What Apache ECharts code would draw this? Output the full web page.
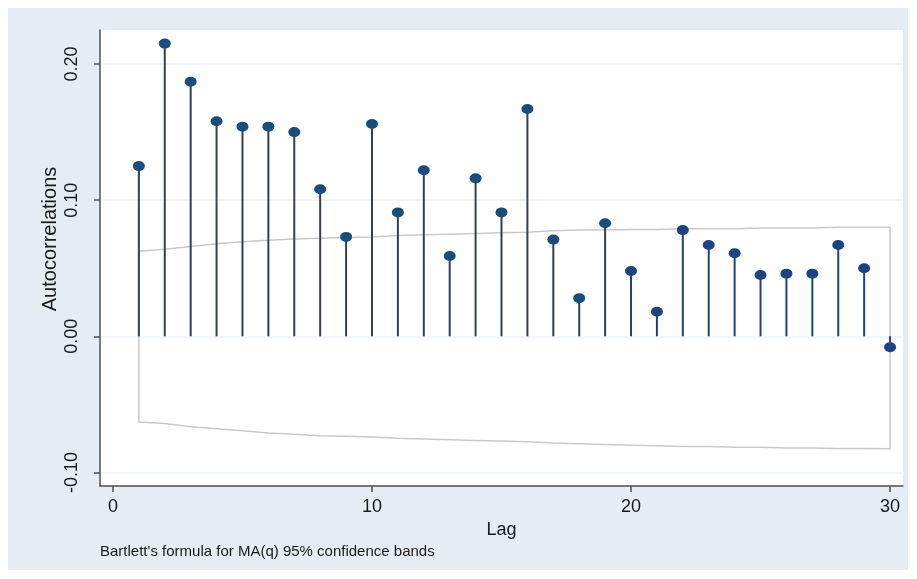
<!DOCTYPE html>
<html>
<head>
<meta charset="utf-8">
<style>html,body{margin:0;padding:0;background:#fff}#c{width:917px;height:579px}</style>
<script src="https://cdn.jsdelivr.net/npm/echarts@6/dist/echarts.min.js"></script>
</head>
<body>
<div id="c"></div>
<script>
var lags = [1,2,3,4,5,6,7,8,9,10,11,12,13,14,15,16,17,18,19,20,21,22,23,24,25,26,27,28,29,30];
var acf = [0.125,0.215,0.187,0.158,0.154,0.154,0.150,0.108,0.073,0.156,0.091,0.122,0.059,0.116,0.091,0.167,0.071,0.028,0.083,0.048,0.018,0.078,0.067,0.061,0.045,0.046,0.046,0.067,0.050,-0.008];
var bandUpper = [0.0625,0.064,0.066,0.068,0.0695,0.0705,0.0715,0.072,0.0725,0.073,0.074,0.0745,0.075,0.0755,0.076,0.0765,0.0775,0.078,0.078,0.0785,0.0785,0.079,0.079,0.079,0.0795,0.0795,0.0795,0.080,0.080,0.080];
var bandLower = [-0.063,-0.064,-0.0665,-0.068,-0.0695,-0.071,-0.072,-0.073,-0.0735,-0.074,-0.075,-0.0755,-0.076,-0.0765,-0.077,-0.0775,-0.0785,-0.079,-0.0795,-0.080,-0.0805,-0.081,-0.081,-0.0815,-0.0815,-0.082,-0.082,-0.0825,-0.0825,-0.0826];
var yTicks = [-0.1, 0, 0.1, 0.2];
var yTickLabels = ['-0.10','0.00','0.10','0.20'];
var xTicks = [0, 10, 20, 30];

var stemData = lags.map(function(l,i){return [l, acf[i]];});
var band = [];
for (var i=0;i<lags.length;i++) band.push([lags[i], bandUpper[i]]);
for (var j=lags.length-1;j>=0;j--) band.push([lags[j], bandLower[j]]);
band.push([lags[0], bandUpper[0]]);

function colStem(l){return l>=20 ? '#1d4480' : '#363f4a';}
function colDot(l){return l>=20 ? '#1d4480' : '#1b4d7c';}

var chart = echarts.init(document.getElementById('c'), null, {renderer:'canvas'});
chart.setOption({
  backgroundColor: '#ffffff',
  animation: false,
  graphic: [
    {type:'rect', z:-10, silent:true, shape:{x:8,y:8,width:900,height:562}, style:{fill:'#e6ebf4'}},
    {type:'text', left:100, top:544, style:{text:"Bartlett's formula for MA(q) 95% confidence bands", font:'15px "Liberation Sans", Arial, sans-serif', fill:'#1a1a1a'}},
    {type:'text', x:50, y:239, rotation:Math.PI/2, style:{text:'Autocorrelations', font:'20px "Liberation Sans", Arial, sans-serif', fill:'#1a1a1a', align:'center', verticalAlign:'middle'}}
  ],
  grid: {left:100, right:14, top:30, bottom:93, show:true, backgroundColor:'#ffffff', borderWidth:0},
  xAxis: {
    type:'value', min:-0.5, max:30.5,
    name:'Lag', nameLocation:'middle', nameGap:30,
    nameTextStyle:{fontSize:18, color:'#1a1a1a', fontFamily:'"Liberation Sans", Arial, sans-serif'},
    axisLine:{show:true, onZero:false, lineStyle:{color:'#505050', width:1.5}},
    axisTick:{show:true, length:6, customValues:xTicks, lineStyle:{color:'#505050', width:1.5}},
    axisLabel:{customValues:xTicks, fontSize:18, margin:12, color:'#1a1a1a', fontFamily:'"Liberation Sans", Arial, sans-serif'},
    splitLine:{show:false}
  },
  yAxis: {
    type:'value', min:-0.11, max:0.225,
    axisLine:{show:true, onZero:false, lineStyle:{color:'#505050', width:1.5}},
    axisTick:{show:true, length:6, customValues:yTicks, lineStyle:{color:'#505050', width:1.5}},
    axisLabel:{customValues:yTicks, rotate:90, fontSize:18, margin:19, color:'#1a1a1a',
      fontFamily:'"Liberation Sans", Arial, sans-serif',
      formatter:function(v){var k=yTicks.indexOf(Math.round(v*100)/100); return k>=0?yTickLabels[k]:'';}},
    splitLine:{show:false}
  },
  series: [
    {
      type:'line', data:band, showSymbol:false, silent:true, z:1,
      lineStyle:{color:'#c9c9c9', width:1.5},
      markLine:{silent:true, symbol:'none', z:0, label:{show:false},
        lineStyle:{color:'#edf0f6', width:1.5, type:'solid'},
        data: yTicks.map(function(t){return {yAxis:t};})}
    },
    {
      type:'custom', z:2,
      renderItem:function(params, api){
        var l = api.value(0), v = api.value(1);
        var p0 = api.coord([l, 0]), p1 = api.coord([l, v]);
        return {type:'line', shape:{x1:p0[0], y1:p0[1], x2:p1[0], y2:p1[1]},
          style:{stroke:colStem(l), lineWidth:2}};
      },
      data: stemData
    },
    {
      type:'scatter', z:3, data:stemData, symbol:'circle', symbolSize:[12,10],
      itemStyle:{opacity:1, color:function(p){return colDot(p.value[0]);}}
    }
  ]
});
</script>
</body>
</html>
